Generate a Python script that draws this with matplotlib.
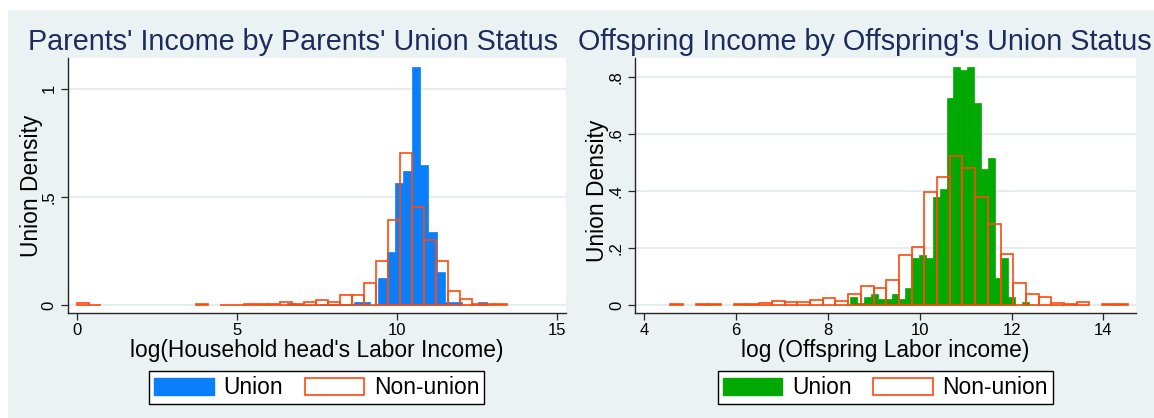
import numpy as np
import matplotlib
matplotlib.use("Agg")
import matplotlib.pyplot as plt
from matplotlib.patches import Rectangle, Patch

plt.rcParams['font.family'] = ['Liberation Sans', 'DejaVu Sans']

# ---------------- data ----------------
# Left panel: parents (household head) log labor income, density histograms
parent_union_start = 6.565
parent_union_width = 0.26
parent_union_density = [0.008, 0.006, 0.002, 0.002, 0.003, 0.005, 0.005, 0.003, 0.012, 0.014, 0.002,
                        0.123, 0.247, 0.563, 0.621, 1.099, 0.646, 0.339, 0.154, 0.013, 0.013, 0.0, 0.0,
                        0.012]
parent_nonunion_start = 0.0
parent_nonunion_width = 0.3737
parent_nonunion_density = [0.008, 0.002, 0, 0, 0, 0, 0, 0, 0, 0, 0.003, 0, 0.002, 0.002, 0.004, 0.006,
                           0.004, 0.012, 0.006, 0.012, 0.022, 0.012, 0.046, 0.046, 0.100, 0.205, 0.393,
                           0.701, 0.455, 0.299, 0.205, 0.066, 0.029, 0.006, 0.003, 0.004]

# Right panel: offspring log labor income
off_union_start = 8.49
off_union_width = 0.1495
off_union_density = [0.029, 0.008, 0.029, 0.039, 0.021, 0.021, 0.039, 0.021, 0.059, 0.166, 0.176, 0.166,
                     0.378, 0.408, 0.727, 0.835, 0.826, 0.835, 0.709, 0.477, 0.515, 0.096, 0.165, 0.029,
                     0.0, 0.010]
off_nonunion_start = 4.565
off_nonunion_width = 0.2767
off_nonunion_density = [0.002, 0, 0.004, 0.002, 0, 0.004, 0.002, 0.008, 0.014, 0.009, 0.009, 0.016, 0.026,
                        0.015, 0.040, 0.068, 0.059, 0.088, 0.176, 0.203, 0.398, 0.451, 0.524, 0.483, 0.378,
                        0.285, 0.181, 0.079, 0.038, 0.027, 0.006, 0.003, 0.009, 0, 0.003, 0.003]

left_xticks = [0, 5, 10, 15]
left_yticks = [0, 0.5, 1]
left_yticklabels = ["0", ".5", "1"]
right_xticks = [4, 6, 8, 10, 12, 14]
right_yticks = [0, 0.2, 0.4, 0.6, 0.8]
right_yticklabels = ["0", ".2", ".4", ".6", ".8"]

left_title = "Parents' Income by Parents' Union Status"
right_title = "Offspring Income by Offspring's Union Status"
left_xlabel = "log(Household head's Labor Income)"
right_xlabel = "log (Offspring Labor income)"
ylabel = "Union Density"
legend_labels = ["Union", "Non-union"]

# ---------------- style ----------------
W, H = 1154, 418
BG = '#eaf2f3'
NAVY = '#1c2c5c'
ORANGE = '#fd4a0c'
BLUE = '#0a7ffb'
GREEN = '#02a903'
GRID = '#e4edf0'
AXC = '#262626'

fig = plt.figure(figsize=(W / 100, H / 100), dpi=100, facecolor='white')
fig.add_artist(Rectangle((8 / W, 0), 1, (H - 10) / H, transform=fig.transFigure,
                         facecolor=BG, edgecolor='none', zorder=-10))


def px_axes(x0, x1, y0, y1):
    return fig.add_axes([x0 / W, 1 - y1 / H, (x1 - x0) / W, (y1 - y0) / H])


def draw_panel(ax, u_start, u_width, u_dens, n_start, n_width, n_dens, ucolor,
               xlim, ylim, xticks, yticks, yticklabels, xlabel, ylab_x, ylab_y):
    ax.set_facecolor('white')
    u = np.asarray(u_dens, dtype=float)
    n = np.asarray(n_dens, dtype=float)
    ue = u_start + u_width * np.arange(len(u))
    ne = n_start + n_width * np.arange(len(n))
    m = u > 0
    ax.bar(ue[m], u[m], width=u_width, align='edge', color=ucolor, edgecolor=ucolor,
           linewidth=0.5, zorder=2)
    m = n > 0
    ax.bar(ne[m], n[m], width=n_width, align='edge', fill=False, edgecolor=ORANGE,
           linewidth=1.2, zorder=3)
    ax.set_xlim(*xlim)
    ax.set_ylim(*ylim)
    ax.set_xticks(xticks)
    ax.set_xticklabels([str(t) for t in xticks])
    ax.set_yticks(yticks)
    ax.set_yticklabels(yticklabels, rotation=90, va='center')
    ax.tick_params(direction='out', length=5, width=0.9, color=AXC, labelsize=12,
                   labelcolor='black')
    ax.tick_params(axis='x', pad=2)
    ax.tick_params(axis='y', pad=3)
    for s in ['top', 'right']:
        ax.spines[s].set_visible(False)
    for s in ['left', 'bottom']:
        ax.spines[s].set_color(AXC)
        ax.spines[s].set_linewidth(1.0)
    ax.yaxis.grid(True, color=GRID, linewidth=1.4)
    ax.set_axisbelow(True)
    ax.set_xlabel(xlabel, fontsize=16.4)
    ax.xaxis.set_label_coords(0.5, -0.1725)
    ax.xaxis.label.set_va('baseline')
    ax.set_ylabel(ylabel, fontsize=16.4)
    ax.yaxis.set_label_coords(ylab_x, ylab_y)
    handles = [Patch(facecolor=ucolor, edgecolor=ucolor, label=legend_labels[0]),
               Patch(facecolor='white', edgecolor=ORANGE, linewidth=1.2, label=legend_labels[1])]
    leg = ax.legend(handles=handles, loc='center', bbox_to_anchor=(0.5, -0.292),
                    bbox_transform=ax.transAxes, ncol=2, fontsize=16.4, frameon=True,
                    fancybox=False, edgecolor='black', framealpha=1, handlelength=2.6,
                    handleheight=0.77, handletextpad=0.43, columnspacing=0.95,
                    borderpad=0.22, borderaxespad=0)
    leg.get_frame().set_linewidth(1.0)


axL = px_axes(67.8, 565.9, 58, 313)
axR = px_axes(635, 1136, 58, 313)

draw_panel(axL, parent_union_start, parent_union_width, parent_union_density,
           parent_nonunion_start, parent_nonunion_width, parent_nonunion_density, BLUE,
           (-0.28, 15.28), (-0.037, 1.142), left_xticks, left_yticks, left_yticklabels,
           left_xlabel, -0.049, 0.5)
draw_panel(axR, off_union_start, off_union_width, off_union_density,
           off_nonunion_start, off_nonunion_width, off_nonunion_density, GREEN,
           (3.797, 14.71), (-0.028, 0.868), right_xticks, right_yticks, right_yticklabels,
           right_xlabel, -0.052, 0.48)

fig.text(293 / W, 1 - 50 / H, left_title, ha='center', va='baseline', fontsize=20.7, color=NAVY)
fig.text(864.5 / W, 1 - 50 / H, right_title, ha='center', va='baseline', fontsize=20.7, color=NAVY)

fig.savefig('out.png', dpi=100, facecolor=fig.get_facecolor())
